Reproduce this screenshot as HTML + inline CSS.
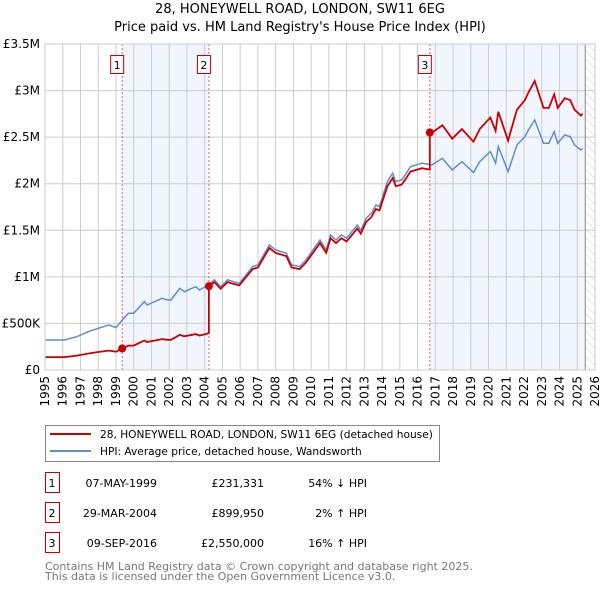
<!DOCTYPE html>
<html><head><meta charset="utf-8"><style>
body{margin:0;background:#fff;font-family:"DejaVu Sans","Liberation Sans",sans-serif;}
svg text{font-family:"DejaVu Sans","Liberation Sans",sans-serif;}
</style></head><body>
<svg id="chart" width="600" height="590" viewBox="0 0 600 590">
<defs><pattern id="hatch" width="6" height="6" patternUnits="userSpaceOnUse" patternTransform="rotate(-45)"><line x1="0" y1="0" x2="0" y2="6" stroke="#ccc" stroke-width="1"/></pattern></defs>
<text x="300" y="13" text-anchor="middle" font-size="13">28, HONEYWELL ROAD, LONDON, SW11 6EG</text>
<text x="300" y="31" text-anchor="middle" font-size="13">Price paid vs. HM Land Registry's House Price Index (HPI)</text>
<g id="plot"></g>
<g>
<rect x="45.5" y="425.5" width="394" height="36" fill="#fff" stroke="#888"/>
<line x1="50" y1="434" x2="91" y2="434" stroke="#cc0000" stroke-width="2"/>
<text x="100" y="438" font-size="10.6">28, HONEYWELL ROAD, LONDON, SW11 6EG (detached house)</text>
<line x1="50" y1="451" x2="91" y2="451" stroke="#5b8fd0" stroke-width="2"/>
<text x="100" y="455" font-size="10.6">HPI: Average price, detached house, Wandsworth</text>
</g>
<g id="table" font-size="11"></g>
<text x="45" y="570" font-size="11" fill="#777">Contains HM Land Registry data © Crown copyright and database right 2025.</text>
<text x="45" y="580" font-size="11" fill="#777">This data is licensed under the Open Government Licence v3.0.</text>
</svg>
<script>
const hpiYears=[1995,1996.1,1996.8,1997.45,1998,1998.6,1999,1999.35,1999.7,2000,2000.6,2000.75,2001.6,2001.9,2002.1,2002.6,2002.85,2003.5,2003.7,2004.05,2004.55,2004.9,2005.3,2005.6,2005.95,2006.7,2007,2007.65,2008,2008.6,2008.9,2009.35,2009.7,2010.5,2010.85,2011.1,2011.4,2011.7,2012,2012.6,2012.8,2013.1,2013.4,2013.65,2013.85,2014.3,2014.6,2014.77,2015.1,2015.3,2015.6,2016.25,2016.8,2017.4,2017.95,2018.5,2019.15,2019.5,2020.1,2020.4,2020.55,2021.1,2021.6,2022.05,2022.25,2022.6,2023.1,2023.4,2023.7,2023.9,2024.3,2024.6,2024.85,2025.2,2025.3];
const hpiValues=[322,322,358,412,448,483,455,537,609,609,734,698,770,752,752,877,841,895,859,895,967,895,967,949,931,1110,1128,1343,1289,1253,1128,1110,1180,1396,1289,1450,1396,1450,1415,1557,1500,1629,1683,1772,1755,2023,2112,2023,2040,2094,2184,2220,2202,2273,2148,2237,2120,2237,2345,2220,2398,2130,2416,2506,2578,2685,2434,2434,2560,2434,2524,2506,2416,2363,2380];
const saleYears=[1999.35,2004.24,2016.69];
const salePrices=[231331,899950,2550000];
const saleLabels=["07-MAY-1999","29-MAR-2004","09-SEP-2016"];
const salePriceText=["£231,331","£899,950","£2,550,000"];
const saleDiffText=["54% ↓ HPI","2% ↑ HPI","16% ↑ HPI"];
const yTicks=[0,500000,1000000,1500000,2000000,2500000,3000000,3500000];
const yTickLabels=["£0","£500K","£1M","£1.5M","£2M","£2.5M","£3M","£3.5M"];
const dataEnd=2025.45;

const NS="http://www.w3.org/2000/svg";
const X0=45,X1=595,Y0=370,Y1=44;
const xs=y=>X0+(y-1995)/(2026-1995)*(X1-X0);
const ys=v=>Y0-v/3500000*(Y0-Y1);
const plot=document.getElementById('plot');
function mk(tag,attrs,parent){const e=document.createElementNS(NS,tag);for(const k in attrs)e.setAttribute(k,attrs[k]);(parent||plot).appendChild(e);return e;}
function hpiAt(y){for(let i=1;i<hpiYears.length;i++){if(y<=hpiYears[i]){const t=(y-hpiYears[i-1])/(hpiYears[i]-hpiYears[i-1]);return (hpiValues[i-1]+t*(hpiValues[i]-hpiValues[i-1]))*1000;}}return hpiValues[hpiValues.length-1]*1000;}

let r=mk('rect',{x:xs(saleYears[0]),y:Y1,width:xs(saleYears[1])-xs(saleYears[0]),height:Y0-Y1,fill:'#eef3fc',opacity:0.8});


r=mk('rect',{x:xs(saleYears[2]),y:Y1,width:xs(dataEnd)-xs(saleYears[2]),height:Y0-Y1,fill:'#eef3fc',opacity:0.8});


r=mk('rect',{x:xs(dataEnd),y:Y1,width:X1-xs(dataEnd),height:Y0-Y1,fill:'url(#hatch)'});


for(let yr=1995;yr<=2026;yr++){
  const l=mk('line',{x1:xs(yr),x2:xs(yr),y1:Y1,y2:Y0,stroke:'#ccc','stroke-width':1});
  
  
  const t=mk('text',{x:0,y:0,'font-size':12,'text-anchor':'end',transform:`translate(${xs(yr)+4},${Y0+6}) rotate(-90)`});
  t.textContent=yr;
  
  
}
yTicks.forEach((v,i)=>{
  const l=mk('line',{x1:X0,x2:X1,y1:ys(v),y2:ys(v),stroke:'#ccc','stroke-width':1});
  
  
  const t=mk('text',{x:X0-5,y:ys(v)+4,'font-size':12,'text-anchor':'end'});
  t.textContent=yTickLabels[i];
  
  
});
let el=mk('line',{x1:xs(dataEnd),x2:xs(dataEnd),y1:Y1,y2:Y0,stroke:'#888','stroke-width':1});


saleYears.forEach((sy,i)=>{
  const l=mk('line',{x1:xs(sy),x2:xs(sy),y1:Y1,y2:Y0,stroke:'#e06060','stroke-width':1,'stroke-dasharray':'2,2'});
  
  
  const b=mk('rect',{x:xs(sy)-11.5,y:55.5,width:13,height:18,fill:'#fff',stroke:'#c00'});
  
  
  const t=mk('text',{x:xs(sy)-5,y:69,'font-size':11,'text-anchor':'middle'});
  t.textContent=i+1;
  
  
});
let d='';hpiYears.forEach((y,i)=>{d+=(i?'L':'M')+xs(y).toFixed(1)+','+ys(hpiValues[i]*1000).toFixed(1);});
const hp=mk('path',{d:d,fill:'none',stroke:'#5b8fd0','stroke-width':1.5});


const ratios=saleYears.map((sy,i)=>salePrices[i]/hpiAt(sy));
function ratioAt(y){let k=0;for(let i=0;i<saleYears.length;i++)if(y>=saleYears[i])k=i;return ratios[k];}
const pts=[];
const allY=hpiYears.concat(saleYears).sort((a,b)=>a-b);
allY.forEach(y=>{
  const si=saleYears.indexOf(y);
  if(si>0){pts.push([y,hpiAt(y)*ratios[si-1]]);}
  pts.push([y,hpiAt(y)*ratioAt(y)]);
});
d='';pts.forEach((p,i)=>{d+=(i?'L':'M')+xs(p[0]).toFixed(1)+','+ys(p[1]).toFixed(1);});
const pp=mk('path',{d:d,fill:'none',stroke:'#cc0000','stroke-width':1.8});


saleYears.forEach((sy,i)=>{
  const c=mk('circle',{cx:xs(sy),cy:ys(salePrices[i]),r:4,fill:'#cc0000'});
  
  
});
const fr=mk('rect',{x:X0,y:Y1,width:X1-X0,height:Y0-Y1,fill:'none',stroke:'#ccc'});


const tb=document.getElementById('table');
saleLabels.forEach((lab,i)=>{
  const y=483+i*30;
  const b=mk('rect',{x:45.5,y:y-10.5,width:14,height:20,fill:'#fff',stroke:'#c00'},tb);
  
  
  const cells=[[52,'middle',String(i+1)],[157,'end',lab],[264,'end',salePriceText[i]],[367,'end',saleDiffText[i]]];
  cells.forEach(c=>{
    const t=mk('text',{x:c[0],y:y+4,'text-anchor':c[1]},tb);
    t.textContent=c[2];
    
    
  });
});
</script>
</body></html>
